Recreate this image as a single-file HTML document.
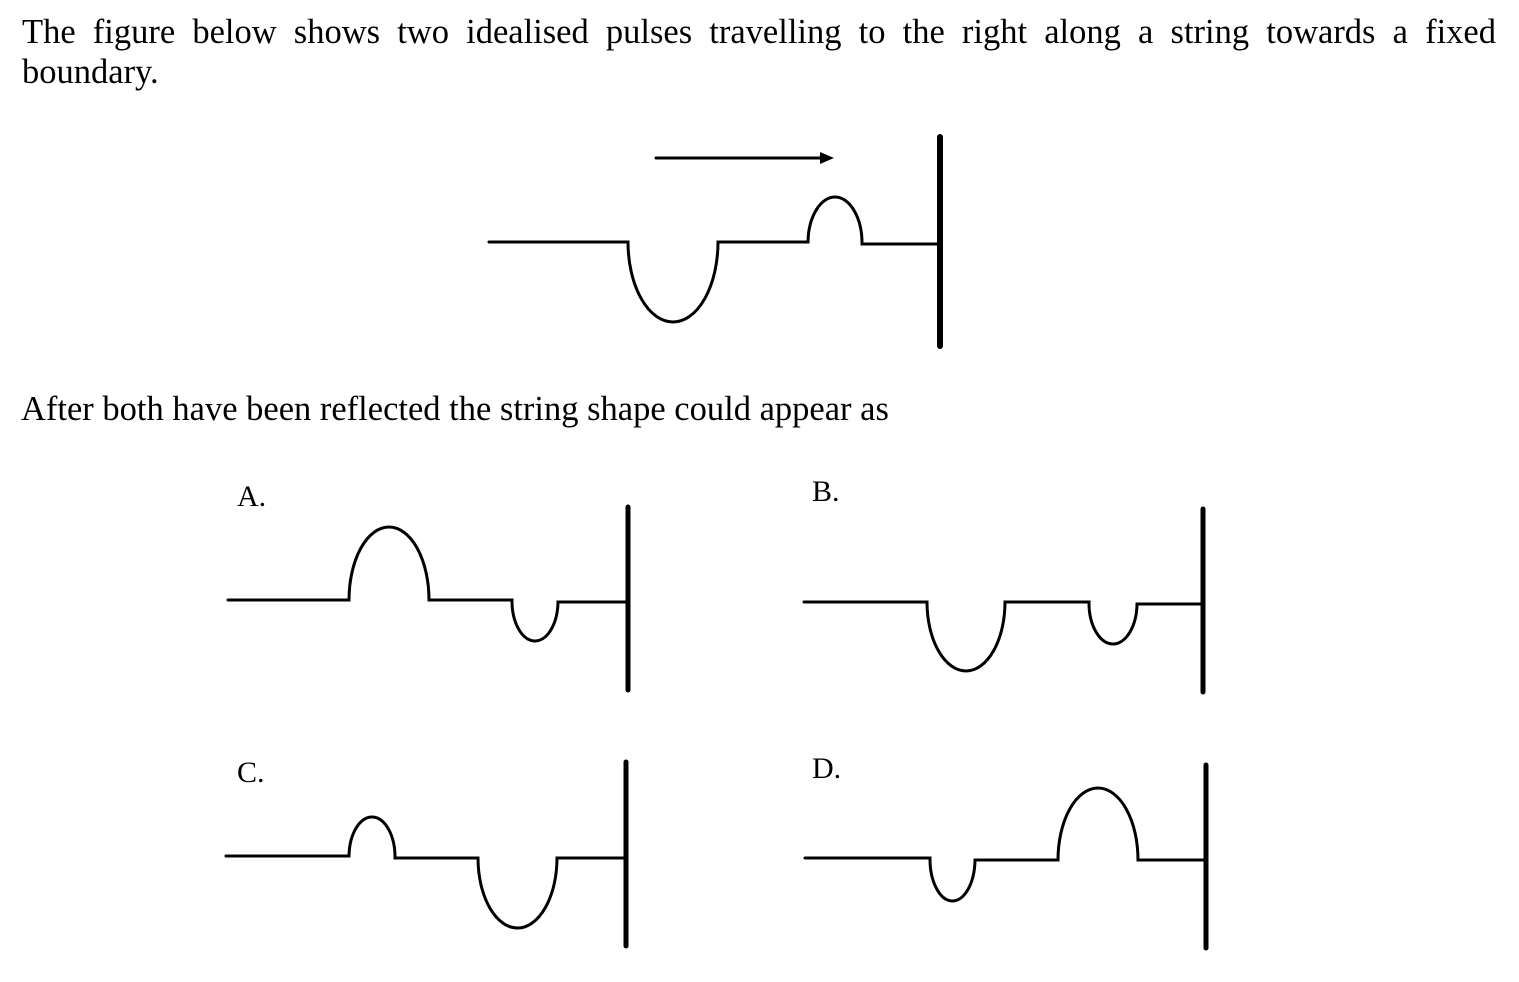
<!DOCTYPE html>
<html><head><style>
body{margin:0;width:1519px;height:982px;background:#fff;position:relative;overflow:hidden;font-family:"Liberation Serif",serif;}
.t{position:absolute;font-size:34.5px;color:#000;}
svg{position:absolute;left:0;top:0;}
</style></head><body>
<div class="t" style="left:22px;top:12px;width:1474px;text-align:justify;text-align-last:left;line-height:40px;">The figure below shows two idealised pulses travelling to the right along a string towards a fixed boundary.</div>
<div class="t" style="left:21px;top:389px;line-height:40px;">After both have been reflected the string shape could appear as</div>
<div class="t" style="left:237px;top:480px;font-size:30px;">A.</div>
<div class="t" style="left:812px;top:475px;font-size:30px;">B.</div>
<div class="t" style="left:237px;top:756px;font-size:30px;">C.</div>
<div class="t" style="left:812px;top:752px;font-size:30px;">D.</div>
<svg width="1519" height="982" fill="none" stroke="#000" stroke-width="3" stroke-linecap="round">
<line x1="656" y1="158" x2="822" y2="158"/>
<polygon points="820,152 834,158 820,164" fill="#000" stroke="none"/>
<path d="M489 242 H628 A45 80 0 0 0 718 242 H808 A27 46 0 0 1 862 244 H940"/>
<line x1="940" y1="137" x2="940" y2="346" stroke-width="6"/>
<path d="M228 600 H349 A40 73 0 0 1 429 600 H512 A23 40 0 0 0 558 602 H628"/>
<line x1="628" y1="507" x2="628" y2="690" stroke-width="5"/>
<path d="M804 602 H927 A39 69 0 0 0 1005 602 H1089 A24 41 0 0 0 1137 604 H1203"/>
<line x1="1203" y1="509" x2="1203" y2="692" stroke-width="5"/>
<path d="M226 856 H349 A23 40 0 0 1 395 858 H478 A39.5 70 0 0 0 557 858 H626"/>
<line x1="626" y1="762" x2="626" y2="946" stroke-width="5"/>
<path d="M805 858 H930 A22.5 42 0 0 0 975 860 H1058 A40 72 0 0 1 1138 860 H1206"/>
<line x1="1206" y1="765" x2="1206" y2="948" stroke-width="5"/>
</svg>
</body></html>
